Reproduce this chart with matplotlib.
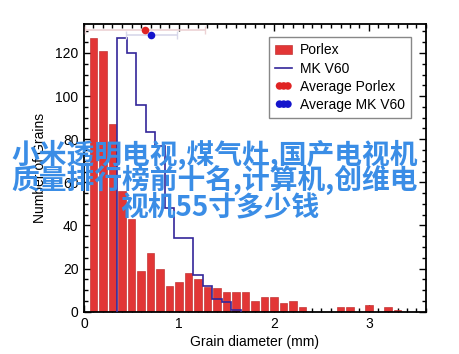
import matplotlib
matplotlib.use("Agg")
import matplotlib.pyplot as plt
from matplotlib.ticker import MultipleLocator

plt.rcParams['font.family'] = ['Liberation Sans', 'DejaVu Sans']

# ---- data ----
porlex_centers = [0.1, 0.2, 0.3, 0.4, 0.5, 0.6, 0.7, 0.8, 0.9, 1.0, 1.1, 1.2, 1.3, 1.4,
                  1.5, 1.6, 1.7, 1.8, 1.9, 2.0, 2.1, 2.2, 2.3, 2.4, 2.5, 2.6, 2.7, 2.8,
                  2.9, 3.0, 3.1, 3.2, 3.3]
porlex_counts = [127, 121, 87, 56, 43, 19, 27, 20, 12, 14, 18, 15, 11.5, 11,
                 9, 9, 9, 5, 7, 7, 4, 5, 2, 0, 0, 0, 2, 2,
                 0, 3, 0, 2, 1]

mk_edges = [0.35, 0.45, 0.55, 0.65, 0.75, 0.85, 0.95, 1.05, 1.15, 1.25, 1.35, 1.45, 1.55, 1.65]
mk_counts = [127, 120, 96, 83.5, 77, 48, 34, 34, 17, 12, 6, 4.6, 1]

avg_porlex_x, avg_porlex_y, avg_porlex_err = 0.64, 130.5, 0.63
avg_mk_x, avg_mk_y, avg_mk_err = 0.71, 128.3, 0.27

overlay_lines = ["小米透明电视,煤气灶,国产电视机",
                 "质量排行榜前十名,计算机,创维电",
                 "视机55寸多少钱"]

# ---- figure ----
fig = plt.figure(figsize=(4.6, 3.54), dpi=100)
ax = fig.add_axes([84/460, 1-311.7/354, 342/460, (311.7-24.3)/354])

bars = ax.bar(porlex_centers, porlex_counts, width=0.08, color='#e23636',
              edgecolor='#b82020', linewidth=0.4, label='Porlex', zorder=2)
st = ax.stairs(mk_counts, mk_edges, baseline=0, color='#33269a', linewidth=1.2,
               label='MK V60', zorder=3)

ax.errorbar([avg_porlex_x], [avg_porlex_y], xerr=[avg_porlex_err], fmt='none',
            ecolor='#ecd2d4', elinewidth=1.2, capsize=3, capthick=1, zorder=4)
ax.errorbar([avg_mk_x], [avg_mk_y], xerr=[avg_mk_err], fmt='none',
            ecolor='#d8d8ea', elinewidth=1.2, capsize=3, capthick=1, zorder=4)
s1 = ax.scatter([avg_porlex_x], [avg_porlex_y], s=30, color='#e02424',
                label='Average Porlex', zorder=5, linewidths=0)
s2 = ax.scatter([avg_mk_x], [avg_mk_y], s=30, color='#1414cc',
                label='Average MK V60', zorder=5, linewidths=0)

ax.set_xlim(0, 3.6)
ax.set_ylim(0, 133.3)
ax.xaxis.set_major_locator(MultipleLocator(1))
ax.xaxis.set_minor_locator(MultipleLocator(0.1))
ax.yaxis.set_major_locator(MultipleLocator(20))
ax.yaxis.set_minor_locator(MultipleLocator(5))
ax.tick_params(which='both', direction='in', top=True, right=True, labelsize=10,
               width=1, colors='black')
ax.tick_params(which='major', length=5, pad=4)
ax.tick_params(which='minor', length=3)
for sp in ax.spines.values():
    sp.set_linewidth(1.3)

ax.set_xlabel('Grain diameter (mm)', fontsize=10, labelpad=3)
ax.set_ylabel('Number of Grains', fontsize=10, labelpad=6)

leg = ax.legend([bars, st, s1, s2], ['Porlex', 'MK V60', 'Average Porlex', 'Average MK V60'],
                loc='upper right', bbox_to_anchor=(0.956, 0.955), borderaxespad=0,
                fontsize=10, frameon=True, fancybox=False, edgecolor='#888888',
                framealpha=1, handlelength=1.2, handletextpad=0.55, labelspacing=0.3,
                borderpad=0.45, scatterpoints=3, scatteryoffsets=[0.5])
leg.get_frame().set_linewidth(1.0)

# overlay text
centers = [(215, 155), (215, 180), (220, 207)]
for (cx, cy), line in zip(centers, overlay_lines):
    fig.text(cx/460, 1-cy/354, line, ha='center', va='center', fontsize=20,
             fontweight='bold', color='#3a8de6',
             family=['Noto Sans CJK SC', 'DejaVu Sans'], zorder=10)

fig.savefig('out.png', dpi=100)
